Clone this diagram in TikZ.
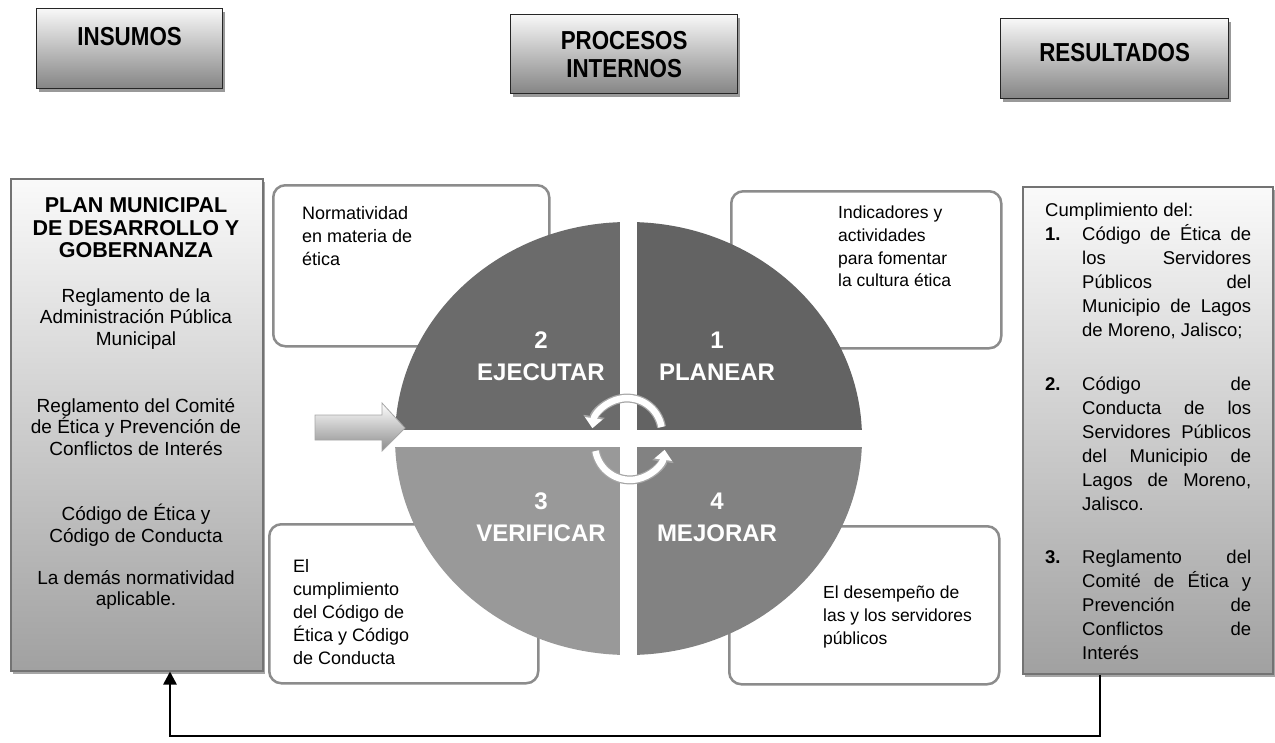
\documentclass[tikz,border=0pt]{standalone}
\usepackage{fontspec}
\setmainfont{Liberation Sans}
\usetikzlibrary{arrows.meta,positioning,calc,shadows}
\newcommand{\narrowtxt}[1]{\scalebox{0.86}[1]{#1}} % condensed look of the headers
\tikzset{x=1pt, y=-1pt, % one unit per pixel, y grows downwards
        headbox/.style={ % grey boxes of the top row
            draw=black!85, line width=1.3pt,
            top color=black!3, bottom color=black!48,
            drop shadow={shadow xshift=2pt, shadow yshift=-3pt, fill=black!40, opacity=1}},
        headtext/.style={font=\bfseries\fontsize{26}{28}\selectfont, align=center},
        bigbox/.style={ % the two side columns
            draw=black!55, line width=1.5pt,
            top color=black!2, bottom color=black!37,
            drop shadow={shadow xshift=2pt, shadow yshift=-3pt, fill=black!35, opacity=1}},
        notebox/.style={ % rounded frames behind the circle
            draw=black!45, line width=2.5pt, rounded corners=12pt, fill=white},
        notetext/.style={font=\fontsize{18}{23}\selectfont, align=left, inner sep=0pt},
        coltext/.style={font=\fontsize{19}{21.5}\selectfont, align=center},
        quadlabel/.style={ % white labels of the cycle
            text=white, font=\bfseries\fontsize{24}{32}\selectfont, align=center},
        cycle arrow/.style={ % white arrows in the middle
            line width=6.5pt, white, -{Triangle[width=17pt,length=10pt]},
            preaction={draw=black!35, line width=9pt, -{Triangle[width=21pt,length=12pt]}}},
        feedback/.style={draw, line width=2.5pt, -{Triangle[width=13pt,length=13pt]}}
        }

\begin{document}
\begin{tikzpicture}
    \useasboundingbox (0,0) rectangle (1275,742);

    % top row
    \node[headbox, anchor=north west, minimum width=186pt, minimum height=80pt] (insumos) at (36,8) {};
    \node[headbox, anchor=north west, minimum width=227pt, minimum height=79pt] (procesos) at (510,14) {};
    \node[headbox, anchor=north west, minimum width=228pt, minimum height=80pt] (resultados) at (1000,18) {};
    \node[headtext] at ($(insumos.center)+(0,-12)$) {\narrowtxt{INSUMOS}};
    \node[headtext] at (procesos.center) {\narrowtxt{PROCESOS}\\\narrowtxt{INTERNOS}};
    \node[headtext] at ($(resultados.center)+(0,-6)$) {\narrowtxt{RESULTADOS}};

    % left column
    \node[bigbox, anchor=north west, minimum width=252pt, minimum height=492pt] (plan) at (10,178) {};
    \node[coltext, font=\bfseries\fontsize{21.5}{22.5}\selectfont] (plantitle) at (136,228) {PLAN MUNICIPAL\\DE DESARROLLO Y\\GOBERNANZA};
    \node[coltext] (regadmin) at (136,319) {Reglamento de la\\Administración Pública\\Municipal};
    \node[coltext] (regcomite) at (136,427) {Reglamento del Comité\\de Ética y Prevención de\\Conflictos de Interés};
    \node[coltext] (codigos) at (136,525) {Código de Ética y\\Código de Conducta};
    \node[coltext] (demas) at (136,590) {La demás normatividad\\aplicable.};

    % right column
    \node[bigbox, anchor=north west, minimum width=250pt, minimum height=487pt] (cumple) at (1022,186) {};
    \node[anchor=north west, inner sep=0pt, text width=206pt, align=justify,
          font=\fontsize{18.5}{24}\selectfont] (lista) at (1045,203) {%
        Cumplimiento del:\par
        \noindent\hangindent=37pt\hangafter=1\makebox[37pt][l]{\textbf{1.}}Código de Ética de\linebreak
        los Servidores\linebreak Públicos del\linebreak Municipio de Lagos\linebreak de Moreno, Jalisco;\par
        \vskip 29.5pt
        \noindent\hangindent=37pt\hangafter=1\makebox[37pt][l]{\textbf{2.}}Código de\linebreak
        Conducta de los\linebreak Servidores Públicos\linebreak del Municipio de\linebreak Lagos de Moreno,\linebreak Jalisco.\par
        \vskip 29.5pt
        \noindent\hangindent=37pt\hangafter=1\makebox[37pt][l]{\textbf{3.}}Reglamento del\linebreak
        Comité de Ética y\linebreak Prevención de\linebreak Conflictos de\linebreak Interés\par};

    % frames behind the circle
    \node[notebox, anchor=north west, minimum width=276pt, minimum height=161pt] (normas) at (272,184) {};
    \node[notebox, anchor=north west, minimum width=270pt, minimum height=157pt] (indica) at (730,190) {};
    \node[notebox, anchor=north west, minimum width=269pt, minimum height=159pt] (verif) at (268,523) {};
    \node[notebox, anchor=north west, minimum width=270pt, minimum height=158pt] (desemp) at (728,525) {};
    \node[notetext, anchor=north west] at (302,206) {Normatividad\\en materia de\\ética};
    \node[notetext, anchor=north west, font=\fontsize{17.5}{22.7}\selectfont] at (838,206) {Indicadores y\\actividades\\para fomentar\\la cultura ética};
    \node[notetext, anchor=north west] at (293,559) {El\\cumplimiento\\del Código de\\Ética y Código\\de Conducta};
    \node[notetext, anchor=north west, font=\fontsize{17.5}{23}\selectfont] at (823,586) {El desempeño de\\las y los servidores\\públicos};

    % the cycle
    \begin{scope}
        \clip (628.5,438.5) ellipse [x radius=233.5pt, y radius=216.5pt];
        \fill[black!58] (390,215) rectangle (620,429.5);
        \fill[black!61] (637,215) rectangle (870,429.5);
        \fill[black!40] (390,446.5) rectangle (620,662);
        \fill[black!49] (637,446.5) rectangle (870,662);
    \end{scope}
    \node[quadlabel] (ejecutar) at (541,356) {2\\EJECUTAR};
    \node[quadlabel] (planear) at (717,356) {1\\PLANEAR};
    \node[quadlabel] (verificar) at (541,517) {3\\VERIFICAR};
    \node[quadlabel] (mejorar) at (717,517) {4\\MEJORAR};
    \draw[cycle arrow] (661.5,427) arc[start angle=10, end angle=172, radius=35pt];
    \draw[cycle arrow] (595.5,451) arc[start angle=190, end angle=352, radius=35pt];

    % entry arrow
    \draw[black!35, line width=0.8pt, top color=white, bottom color=black!45]
        (315,415) -- (382,415) -- (382,403) -- (405,428) -- (382,451) -- (382,440) -- (315,440) -- cycle;

    % feedback from results to inputs
    \coordinate (fbright) at (1100,736);
    \coordinate (fbleft) at (170,736);
    \draw[feedback] (fbright |- cumple.south) -- (fbright) -- (fbleft) -- (fbleft |- plan.south);
\end{tikzpicture}
\end{document}
